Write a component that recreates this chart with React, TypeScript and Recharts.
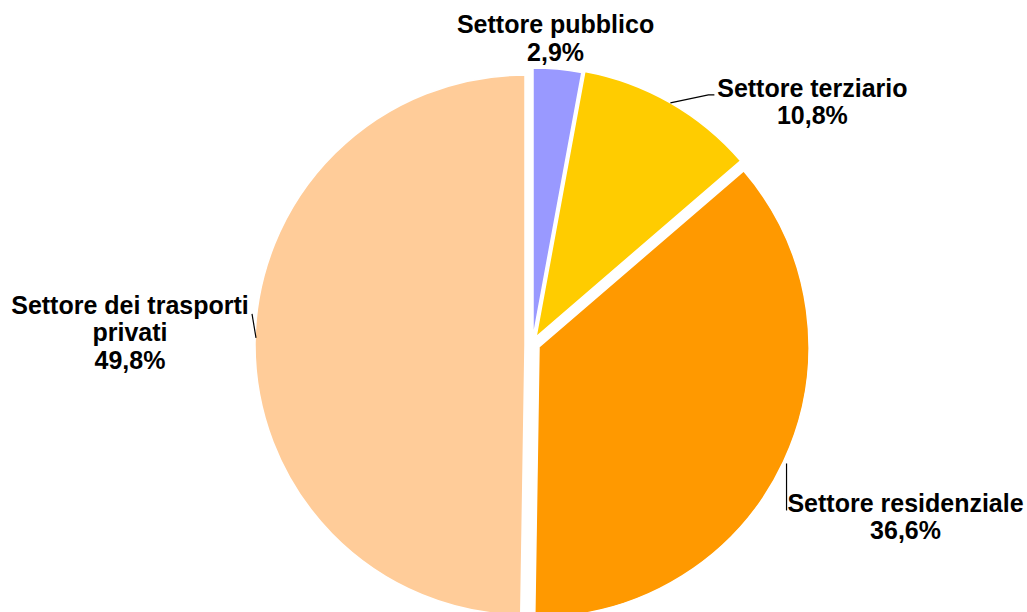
import React from 'react';
import { PieChart, Pie, Cell } from 'recharts';

// ---- data ----
const categories = [
  'Settore pubblico',
  'Settore terziario',
  'Settore residenziale',
  'Settore dei trasporti privati',
];
const shares = [2.9, 10.8, 36.6, 49.8];
const colors = ['#9999FF', '#FFCC00', '#FF9900', '#FFCC99'];

const data = categories.map((name, i) => ({ name, value: shares[i] }));

// ---- layout (exploded slice centres, label placement) ----
const sliceCentres = [
  { cx: 533, cy: 338 },
  { cx: 536, cy: 337 },
  { cx: 539, cy: 347 },
  { cx: 525, cy: 345 },
];
const OUTER_R = 270;
const FONT_SIZE = 25;
const LINE_H = 27.5;

type LabelLayout = {
  lines: string[];
  dx: number; // text centre relative to arc midpoint
  dy: number; // first baseline relative to arc midpoint
  leader: [number, number][];
};
const labelLayout: LabelLayout[] = [
  { lines: ['Settore pubblico'], dx: -2, dy: -36, leader: [] },
  { lines: ['Settore terziario'], dx: 142, dy: -6, leader: [[0, 0], [38, -8], [44, -8]] },
  { lines: ['Settore residenziale'], dx: 122, dy: 50.5, leader: [[3, 2], [3, 49]] },
  { lines: ['Settore dei trasporti', 'privati'], dx: -125, dy: -29, leader: [[1, -5], [-3, -29]] },
];

const RADIAN = Math.PI / 180;
const fmt = (v: number) => v.toFixed(1).replace('.', ',') + '%';

const makeLabel = (k: number) => (props: any) => {
  const { cx, cy, midAngle, outerRadius, index, value } = props;
  if (index !== k) return <g />;
  const ax = cx + outerRadius * Math.cos(-midAngle * RADIAN);
  const ay = cy + outerRadius * Math.sin(-midAngle * RADIAN);
  const L = labelLayout[k];
  const lines = [...L.lines, fmt(value)];
  const tx = ax + L.dx;
  const ty = ay + L.dy;
  return (
    <g>
      {L.leader.length > 1 && (
        <polyline
          points={L.leader.map(([x, y]) => `${ax + x},${ay + y}`).join(' ')}
          fill="none"
          stroke="#000"
          strokeWidth={1.2}
        />
      )}
      <text
        x={tx}
        y={ty}
        textAnchor="middle"
        fontFamily="'Liberation Sans', Arial, sans-serif"
        fontWeight="bold"
        fontSize={FONT_SIZE}
        fill="#000"
      >
        {lines.map((ln, i) => (
          <tspan key={i} x={tx} y={ty + i * LINE_H}>
            {ln}
          </tspan>
        ))}
      </text>
    </g>
  );
};

export default function App() {
  return (
    <div style={{ position: 'absolute', left: 0, top: 0, width: 1027, height: 612, background: '#fff' }}>
      <PieChart width={1027} height={612} margin={{ top: 0, right: 0, bottom: 0, left: 0 }}>
        {sliceCentres.map((c, k) => (
          <Pie
            key={k}
            data={data}
            dataKey="value"
            nameKey="name"
            cx={c.cx}
            cy={c.cy}
            outerRadius={OUTER_R}
            startAngle={90}
            endAngle={-270}
            isAnimationActive={false}
            label={makeLabel(k)}
            labelLine={false}
          >
            {data.map((d, i) => (
              <Cell
                key={i}
                fill={i === k ? colors[i] : 'transparent'}
                stroke={i === k ? '#fff' : 'none'}
                strokeWidth={i === k ? 1.5 : 0}
              />
            ))}
          </Pie>
        ))}
      </PieChart>
    </div>
  );
}
